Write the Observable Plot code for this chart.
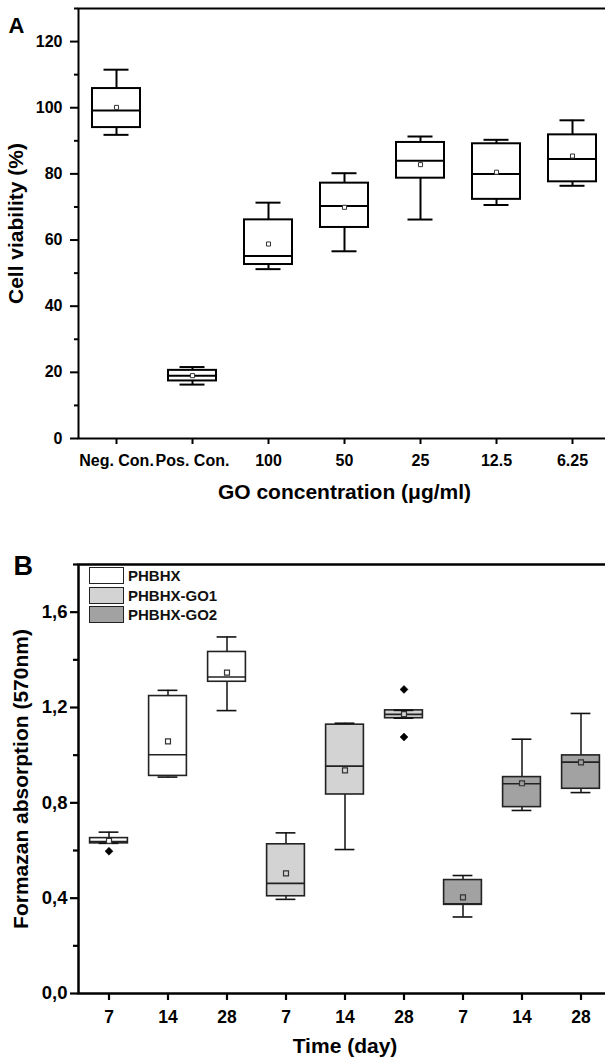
<!DOCTYPE html>
<html>
<head>
<meta charset="utf-8">
<script src="https://cdn.jsdelivr.net/npm/d3@7"></script>
<script src="https://cdn.jsdelivr.net/npm/@observablehq/plot@0.6"></script>
<style>
html, body { margin: 0; padding: 0; background: white; overflow: hidden; width: 605px; height: 1063px; }
#wrap { position: relative; width: 605px; height: 1063px; }
#wrap svg { display: block; }
.leg { position: absolute; font-family: 'Liberation Sans', Arial, sans-serif; font-weight: bold; font-size: 15px; color: #111; }
.legbox { position: absolute; width: 33px; height: 15px; border: 1.5px solid #222; }
</style>
</head>
<body>
<div id="wrap"></div>
<script>
// ---------- Panel A data ----------
const catsA = ["Neg. Con.", "Pos. Con.", "100", "50", "25", "12.5", "6.25"];
const minA    = [91.8, 16.3, 51.2, 56.6, 66.2, 70.6, 76.4];
const q1A     = [94.0, 17.4, 52.6, 63.8, 78.7, 72.3, 77.6];
const medA    = [99.2, 19.0, 55.2, 70.3, 84.0, 80.0, 84.5];
const q3A     = [105.8, 20.6, 66.1, 77.2, 89.5, 89.1, 91.8];
const maxA    = [111.5, 21.6, 71.3, 80.2, 91.3, 90.3, 96.2];
const meanA   = [100.1, 19.0, 58.8, 69.9, 82.8, 80.5, 85.4];
const yTicksA = [0, 20, 40, 60, 80, 100, 120];
const yMinorA = [10, 30, 50, 70, 90, 110, 130];

// ---------- Panel B data ----------
const groupsB = ["PHBHX", "PHBHX-GO1", "PHBHX-GO2"];
const daysB = ["7", "14", "28"];
const minB  = [0.630, 0.908, 1.187, 0.395, 0.604, 1.155, 0.321, 0.768, 0.843];
const q1B   = [0.630, 0.913, 1.308, 0.408, 0.835, 1.155, 0.372, 0.782, 0.859];
const medB  = [0.638, 1.002, 1.328, 0.462, 0.954, 1.171, 0.376, 0.880, 0.971];
const q3B   = [0.652, 1.248, 1.433, 0.626, 1.128, 1.188, 0.476, 0.908, 0.999];
const maxB  = [0.677, 1.272, 1.496, 0.674, 1.134, 1.188, 0.495, 1.067, 1.175];
const meanB = [0.640, 1.058, 1.346, 0.504, 0.936, 1.172, 0.403, 0.882, 0.970];
const outlierGroup = ["PHBHX", "PHBHX-GO1", "PHBHX-GO1"];
const outlierDay   = ["7", "28", "28"];
const outlierValue = [0.597, 1.276, 1.076];
const fillsB = ["#ffffff", "#d3d3d3", "#a2a2a2"];
const yTicksB = [0, 0.4, 0.8, 1.2, 1.6];
const yMinorB = [0.2, 0.6, 1.0, 1.4, 1.8];

// ---------- build tables ----------
const dataA = catsA.map((c, i) => ({cat: c, min: minA[i], q1: q1A[i], med: medA[i], q3: q3A[i], max: maxA[i], mean: meanA[i]}));
const keysB = [];
groupsB.forEach(g => daysB.forEach(d => keysB.push(g + "|" + d)));
const dataB = keysB.map((k, i) => ({key: k, group: k.split("|")[0], min: minB[i], q1: q1B[i], med: medB[i], q3: q3B[i], max: maxB[i], mean: meanB[i]}));
const outB = outlierValue.map((v, i) => ({key: outlierGroup[i] + "|" + outlierDay[i], v}));

// square diamond symbol (rotated square)
const squareDiamond = {
  draw(ctx, size) {
    const r = Math.sqrt(size) * 0.627;
    ctx.moveTo(0, -r); ctx.lineTo(r, 0); ctx.lineTo(0, r); ctx.lineTo(-r, 0); ctx.closePath();
  }
};

const font = "'Liberation Sans', Arial, Helvetica, sans-serif";
const wrap = document.getElementById("wrap");
const blank = () => "";

// ---------- Panel A ----------
const plotA = Plot.plot({
  width: 612, height: 530,
  marginLeft: 78, marginRight: 2, marginTop: 8, marginBottom: 92,
  style: {fontFamily: font, fontWeight: "bold", background: "white", maxWidth: "none", color: "#000"},
  x: {type: "band", domain: catsA, padding: 0},
  y: {domain: [0, 130]},
  marks: [
    Plot.ruleX(dataA, {x: "cat", y1: "q3", y2: "max", stroke: "#000", strokeWidth: 2}),
    Plot.ruleX(dataA, {x: "cat", y1: "min", y2: "q1", stroke: "#000", strokeWidth: 2}),
    Plot.barY(dataA, {x: "cat", y1: "q1", y2: "q3", fill: "white", stroke: "#000", strokeWidth: 2, insetLeft: 14, insetRight: 14}),
    Plot.tickY(dataA, {x: "cat", y: "med", stroke: "#000", strokeWidth: 2, insetLeft: 14, insetRight: 14}),
    Plot.tickY(dataA, {x: "cat", y: "max", stroke: "#000", strokeWidth: 2, insetLeft: 25.5, insetRight: 25.5}),
    Plot.tickY(dataA, {x: "cat", y: "min", stroke: "#000", strokeWidth: 2, insetLeft: 25.5, insetRight: 25.5}),
    Plot.dot(dataA, {x: "cat", y: "mean", symbol: "square", r: 2.3, fill: "white", stroke: "#333", strokeWidth: 1}),
    Plot.frame({stroke: "#000", strokeWidth: 2}),
    Plot.axisY(yTicksA, {tickSize: 8, tickPadding: 8, fontSize: 16, strokeWidth: 2, label: null}),
    Plot.axisY(yMinorA, {tickSize: 4, strokeWidth: 2, tickFormat: blank, label: null}),
    Plot.axisX({tickSize: 6, tickPadding: 10, fontSize: 16, strokeWidth: 2, label: null}),
    Plot.text(["GO concentration (μg/ml)"], {frameAnchor: "bottom", lineAnchor: "middle", textAnchor: "middle", dy: 54, fontSize: 21}),
    Plot.text(["Cell viability (%)"], {frameAnchor: "left", lineAnchor: "middle", textAnchor: "middle", rotate: -90, dx: -62, fontSize: 21}),
    Plot.text(["A"], {frameAnchor: "top-left", textAnchor: "start", lineAnchor: "top", dx: -70, dy: 9, fontSize: 22})
  ]
});
wrap.appendChild(plotA);

// ---------- Panel B ----------
const plotB = Plot.plot({
  width: 612, height: 533,
  marginLeft: 78, marginRight: 1, marginTop: 34, marginBottom: 70,
  style: {fontFamily: font, fontWeight: "bold", background: "white", maxWidth: "none", color: "#000"},
  x: {type: "band", domain: keysB, padding: 0},
  y: {domain: [0, 1.8]},
  color: {domain: groupsB, range: fillsB},
  marks: [
    Plot.ruleX(dataB, {x: "key", y1: "q3", y2: "max", stroke: "#111", strokeWidth: 1.5}),
    Plot.ruleX(dataB, {x: "key", y1: "min", y2: "q1", stroke: "#111", strokeWidth: 1.5}),
    Plot.barY(dataB, {x: "key", y1: "q1", y2: "q3", fill: "group", stroke: "#222", strokeWidth: 1.6, insetLeft: 10.6, insetRight: 10.6}),
    Plot.tickY(dataB, {x: "key", y: "med", stroke: "#222", strokeWidth: 1.6, insetLeft: 10.6, insetRight: 10.6}),
    Plot.tickY(dataB, {x: "key", y: "max", stroke: "#111", strokeWidth: 1.6, insetLeft: 19.6, insetRight: 19.6}),
    Plot.tickY(dataB, {x: "key", y: "min", stroke: "#111", strokeWidth: 1.6, insetLeft: 19.6, insetRight: 19.6}),
    Plot.dot(dataB, {x: "key", y: "mean", symbol: "square", r: 2.8, fill: "group", stroke: "#333", strokeWidth: 1.2}),
    Plot.dot(outB, {x: "key", y: "v", symbol: squareDiamond, r: 3.6, fill: "#000", stroke: "#000", strokeWidth: 0.5}),
    Plot.frame({stroke: "#000", strokeWidth: 2.5}),
    Plot.axisY(yTicksB, {tickSize: 8, tickPadding: 3, fontSize: 18.5, strokeWidth: 2.2, label: null, tickFormat: d => d.toFixed(1).replace(".", ",")}),
    Plot.axisY(yMinorB, {tickSize: 5, strokeWidth: 2.2, tickFormat: blank, label: null}),
    Plot.axisX({tickSize: 7, tickPadding: 10, fontSize: 17.5, strokeWidth: 2.2, label: null, tickFormat: k => k.split("|")[1]}),
    Plot.text(["Time (day)"], {frameAnchor: "bottom", lineAnchor: "middle", textAnchor: "middle", dy: 53, fontSize: 21}),
    Plot.text(["Formazan absorption (570nm)"], {frameAnchor: "left", lineAnchor: "middle", textAnchor: "middle", rotate: -90, dx: -57, fontSize: 21}),
    Plot.text(["B"], {frameAnchor: "top-left", textAnchor: "start", lineAnchor: "top", dx: -65, dy: -9, fontSize: 27})
  ]
});
wrap.appendChild(plotB);

// ---------- Legend for panel B ----------
const legTops = [567, 587, 606];
groupsB.forEach((g, i) => {
  const box = document.createElement("div");
  box.className = "legbox";
  box.style.left = "89px";
  box.style.top = legTops[i] + "px";
  box.style.background = fillsB[i];
  wrap.appendChild(box);
  const t = document.createElement("div");
  t.className = "leg";
  t.style.left = "128px";
  t.style.top = (legTops[i] - 0.5) + "px";
  t.style.lineHeight = "18px";
  t.textContent = g;
  wrap.appendChild(t);
});
</script>
</body>
</html>
